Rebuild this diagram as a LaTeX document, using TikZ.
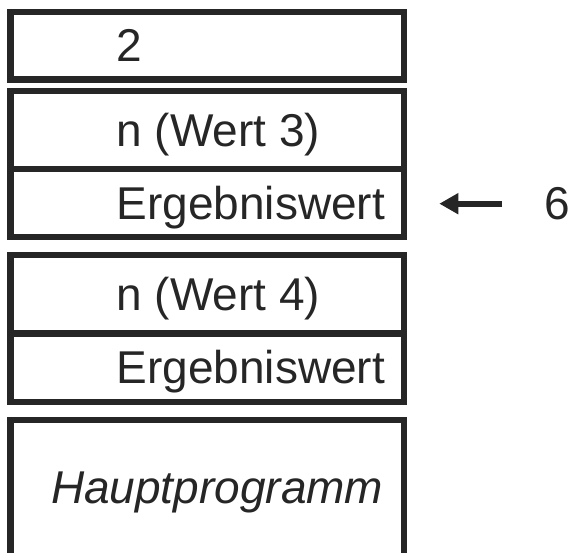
\documentclass[tikz,border=0pt]{standalone}
\usepackage{fontspec}
\setmainfont{Liberation Sans}
\usetikzlibrary{arrows.meta}
\definecolor{ink}{RGB}{38,38,38}
\tikzset{
  cell/.style={draw=ink, line width=6.4pt, rectangle, inner sep=0pt, outer sep=0pt, minimum width=393.3pt, anchor=north west},
  lbl/.style={text=ink, inner sep=0pt, outer sep=0pt, anchor=base west, font=\fontsize{46}{50}\selectfont},
  pointer/.style={draw=ink, line width=6.2pt, -{Triangle[length=19pt,width=20pt]}},
}
\begin{document}
\begin{tikzpicture}[x=1pt,y=1pt]
\useasboundingbox (0,0) rectangle (570,-553);
% boxes
\node[cell, minimum height=67.7pt] (b1) at (10.5,-12) {};
\node[cell, minimum height=77.7pt] (b2) at (10.5,-91.3) {};
\node[cell, minimum height=68.3pt] (b3) at (10.5,-169) {};
\node[cell, minimum height=78.3pt] (b4) at (10.5,-255) {};
\node[cell, minimum height=68.7pt] (b5) at (10.5,-333.3) {};
\draw[draw=ink, line width=6.4pt] (10.5,-553) -- (10.5,-419.7) -- (403.8,-419.7) -- (403.8,-553);
% labels
\node[lbl] (t1) at (116.5,-61.7) {2};
\node[lbl] (t2) at (116.5,-146.3) {n (Wert 3)};
\node[lbl] (t3) at (116.5,-219.3) {Ergebniswert};
\node[lbl] (t4) at (116.5,-310.3) {n (Wert 4)};
\node[lbl] (t5) at (116.5,-383.3) {Ergebniswert};
\node[lbl, font=\fontsize{46}{50}\selectfont\itshape] (t6) at (51,-503.3) {Hauptprogramm};
\node[lbl, anchor=base] (six) at (557.5,-220) {6};
% arrow
\coordinate (astart) at (502.3,-203.7);
\coordinate (aend) at (439.3,-203.7);
\draw[pointer] (astart) -- (aend);
\end{tikzpicture}
\end{document}
